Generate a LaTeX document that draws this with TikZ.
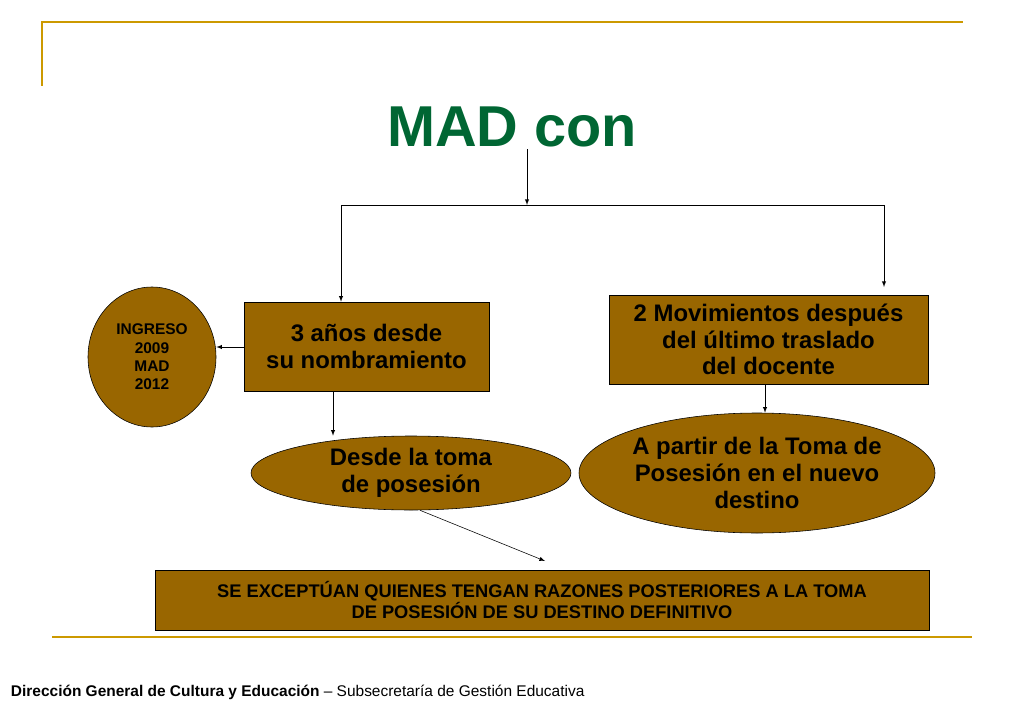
\documentclass[tikz,border=0pt]{standalone}
\usepackage{fontspec}
\setmainfont{Liberation Sans}
\usetikzlibrary{shapes.geometric}
\definecolor{cafe}{HTML}{996600}
\definecolor{verde}{HTML}{006633}
\definecolor{oro}{HTML}{CC9900}
\tikzset{
  caja/.style={draw=black, fill=cafe, font=\bfseries\fontsize{17}{19}\selectfont, align=center, inner sep=0pt},
  elipse/.style={draw=black, fill=cafe, ellipse, inner sep=0pt, font=\bfseries\fontsize{17}{19}\selectfont, align=center},
  flecha/.style={-latex, thin}
}
\begin{document}
\begin{tikzpicture}[x=0.025cm, y=-0.025cm]
  \useasboundingbox (0,0) rectangle (1024,709);
  % Lineas doradas
  \draw[oro, line width=1.5pt] (42,86) -- (42,22) -- (963,22);
  \draw[oro, line width=1.5pt] (52,637) -- (972,637);

  % Titulo
  \node[text=verde, font=\bfseries\fontsize{41}{45}\selectfont] (titulo) at (512,127) {MAD con};

  % Cajas
  \node[caja, minimum width=245*0.025cm, minimum height=89*0.025cm] (anios) at (366.5,346.5) {3 años desde\\su nombramiento};
  \node[caja, minimum width=319*0.025cm, minimum height=89*0.025cm] (movs) at (768.5,339.5) {2 Movimientos después\\del último traslado\\del docente};
  \node[caja, font=\bfseries\fontsize{13}{15}\selectfont, minimum width=774*0.025cm, minimum height=60*0.025cm] (excep) at (542,600) {SE EXCEPTÚAN QUIENES TENGAN RAZONES POSTERIORES A LA TOMA\\DE POSESIÓN DE SU DESTINO DEFINITIVO};

  % Elipses
  \node[elipse, font=\bfseries\fontsize{11}{13}\selectfont, minimum width=128*0.025cm, minimum height=140*0.025cm] (ingreso) at (152,357) {INGRESO\\2009\\MAD\\2012};
  \node[elipse, minimum width=320*0.025cm, minimum height=74*0.025cm] (toma) at (411,473) {Desde la toma\\de posesión};
  \node[elipse, minimum width=356*0.025cm, minimum height=120*0.025cm] (partir) at (757,473) {A partir de la Toma de\\Posesión en el nuevo\\destino};

  % Conectores
  \coordinate (bif) at (527,205);
  \coordinate (izq) at (341,205);
  \coordinate (der) at (884,205);
  \coordinate (fin) at (884,287);
  \draw[flecha] (titulo.south -| bif) ++(0,-3) -- (bif);
  \draw (izq) -- (der);
  \draw[flecha] (izq) -- (izq |- anios.north);
  \draw[flecha] (der) -- (fin);
  \draw[flecha] (anios.west |- 0,347) -- (ingreso.east |- 0,347);
  \draw[flecha] (anios.south -| 333,0) -- (toma.north -| 333,0);
  \draw[flecha] (movs.south -| 765,0) -- (partir.north -| 765,0);
  \draw[flecha] (toma.south -| 420,0) -- (545,561);

  % Pie
  \node[anchor=west, font=\fontsize{11}{13}\selectfont] (pie) at (6,692) {\textbf{Dirección General de Cultura y Educación} – Subsecretaría de Gestión Educativa};
\end{tikzpicture}
\end{document}
